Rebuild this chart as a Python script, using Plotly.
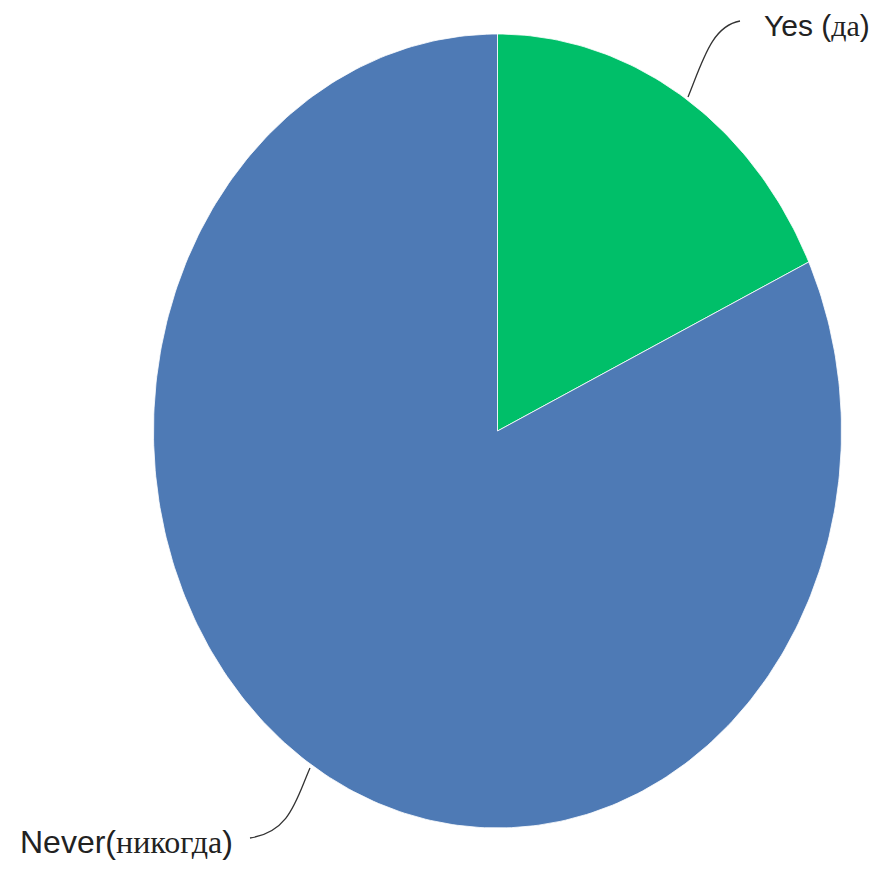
import numpy as np
import plotly.graph_objects as go

# Data
categories = ["Yes (да)", "Never(никогда)"]
values = [18, 82]
colors = ["#00bf69", "#4e7ab5"]

W, H = 884, 871
OFF = 8  # page body margin
cx, cy, rx, ry = 497.5, 431.0, 344.0, 397.0

fig = go.Figure()

total = sum(values)
start = 0.0
for cat, val, col in zip(categories, values, colors):
    end = start + val / total
    t = np.linspace(start, end, max(int(400 * (end - start)), 4)) * 2 * np.pi
    xs = np.concatenate([[cx], cx + rx * np.sin(t), [cx]])
    ys = np.concatenate([[cy], cy - ry * np.cos(t), [cy]])
    fig.add_trace(go.Scatter(
        x=xs, y=ys, mode="lines", fill="toself", fillcolor=col,
        line=dict(color="rgba(255,255,255,0.8)", width=1),
        name=cat, hoverinfo="name", showlegend=False,
    ))
    start = end

fig.update_xaxes(range=[OFF, W + OFF], visible=False, fixedrange=True)
fig.update_yaxes(range=[H + OFF, OFF], visible=False, fixedrange=True)

# Leader lines
fig.add_shape(type="path", path="M 688 97 C 703 60, 712 26, 740 21",
              line=dict(color="#333333", width=1.3), xref="x", yref="y")
fig.add_shape(type="path", path="M 310 768 C 296 800, 290 832, 250 838",
              line=dict(color="#333333", width=1.3), xref="x", yref="y")

fam = "Liberation Sans, Arial, sans-serif"
fig.add_annotation(x=762, y=25, xref="x", yref="y", xanchor="left", yanchor="middle",
                   text="Yes (<span style='font-family:Liberation Serif'>да</span>)",
                   showarrow=False, font=dict(family=fam, size=30, color="#222222"))
fig.add_annotation(x=18, y=842, xref="x", yref="y", xanchor="left", yanchor="middle",
                   text="Never(<span style='font-family:Liberation Serif'>никогда</span>)",
                   showarrow=False, font=dict(family=fam, size=32, color="#222222"))

fig.update_layout(width=W, height=H, margin=dict(l=0, r=0, t=0, b=0),
                  paper_bgcolor="white", plot_bgcolor="white")
fig.write_html("out.html")
